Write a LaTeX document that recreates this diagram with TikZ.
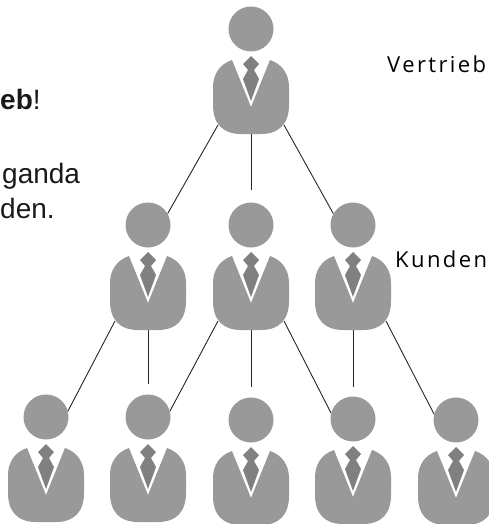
\documentclass[tikz,border=0pt]{standalone}
\usepackage{fontspec}
\setmainfont{Liberation Sans}
\newfontfamily\labelfont[LetterSpace=11]{Open Sans}
\definecolor{bodygrey}{HTML}{999999}
\definecolor{tiegrey}{HTML}{808080}
\tikzset{
  head/.style={circle,fill=bodygrey,minimum size=45pt,inner sep=0pt},
  bodyfill/.style={fill=bodygrey},
  tiefill/.style={fill=tiegrey},
  link/.style={draw=black!85,line width=0.9pt},
  lefttext/.style={anchor=base west,inner sep=0pt,font=\fontsize{28}{28}\selectfont,text=black!90},
  sidetext/.style={anchor=base west,inner sep=0pt,font=\labelfont\fontsize{22}{22}\selectfont,text=black}
}
\newcommand\person[3]{%
  \begin{scope}[shift={(#2,#3)}]
    \node[head] (#1h) at (0,0) {};
    \fill[bodyfill] (-19,31) .. controls (-31,35) and (-38,45) .. (-38,58)
      -- (-38,76) .. controls (-38,95) and (-28,105) .. (-10,105)
      -- (10,105) .. controls (28,105) and (38,95) .. (38,76)
      -- (38,58) .. controls (38,45) and (31,35) .. (19,31)
      -- (0,78) -- cycle;
    \fill[tiefill] (0,27) -- (8,35) -- (3,41) -- (8,50) -- (0,72) -- (-8,50) -- (-3,41) -- (-8,35) -- cycle;
    \coordinate (#1bl) at (-33,96);
    \coordinate (#1br) at (33,96);
    \coordinate (#1bc) at (0,105);
  \end{scope}}
\begin{document}
\begin{tikzpicture}[x=1pt,y=-1pt]
\useasboundingbox (0,0) rectangle (489,524);
\person{t}{251}{29}
\person{a}{148}{225}
\person{b}{251}{225}
\person{c}{353}{225}
\person{p}{46}{417}
\person{q}{148}{417}
\person{r}{251}{420}
\person{s}{353}{419}
\person{u}{456}{420}
\coordinate (tfree) at (251,190);
\coordinate (afree) at (148,384);
\coordinate (bfree) at (251,387);
\coordinate (cfree) at (353,387);
\draw[link] (tbl) -- (ah.30);
\draw[link] (tbc) -- (tfree);
\draw[link] (tbr) -- (ch.150);
\draw[link] (abl) -- (ph.15);
\draw[link] (abc) -- (afree);
\draw[link] (bbl) -- (qh.15);
\draw[link] (bbc) -- (bfree);
\draw[link] (bbr) -- (sh.165);
\draw[link] (cbc) -- (cfree);
\draw[link] (cbr) -- (uh.165);
\node[lefttext] (t1) at (0,110) {\textbf{eb}!};
\node[lefttext] (t2) at (2,183) {ganda};
\node[lefttext] (t3) at (0,218) {den.};
\node[sidetext] (v) at (387,73) {Vertrieb};
\node[sidetext] (k) at (395,267) {Kunden};
\end{tikzpicture}
\end{document}
